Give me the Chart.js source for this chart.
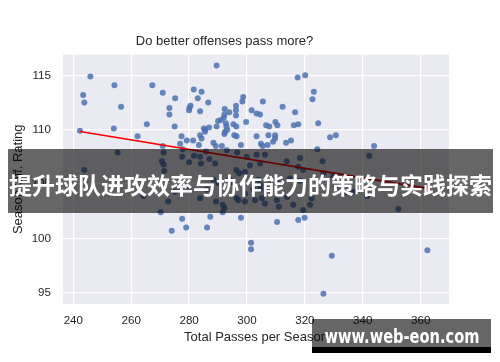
<!DOCTYPE html>
<html>
<head>
<meta charset="utf-8">
<script src="https://cdn.jsdelivr.net/npm/chart.js@4/dist/chart.umd.min.js"></script>
<style>
  html, body { margin: 0; padding: 0; background: #fff; }
  #wrap { position: relative; width: 500px; height: 362px; overflow: hidden; }
  #banner {
    position: absolute; left: 8px; top: 149px; width: 485px; height: 64px;
    background: rgba(0,0,0,0.6); color: #fff; text-align: center;
    font: bold 23px "Noto Sans CJK SC", sans-serif; line-height: 64px; white-space: nowrap;
  }
  #banner span { position: relative; top: 3px; }
  #mark {
    position: absolute; left: 312px; top: 319px; width: 179px; height: 28px;
    background: rgba(0,0,0,0.6); border-bottom: 6px solid #000;
    color: #fff; font: bold 19px "DejaVu Sans", sans-serif; line-height: 28px; white-space: nowrap;
  }
  #mark span {
    position: absolute; left: 50%; top: 3px;
    transform: translateX(-50%) scaleX(0.77);
  }
</style>
</head>
<body>
<div id="wrap">
  <canvas id="chart" width="500" height="362"></canvas>
  <div id="banner"><span>提升球队进攻效率与协作能力的策略与实践探索</span></div>
  <div id="mark"><span>www.web-eon.com</span></div>
</div>
<script>
// total passes per season (x) and season offensive rating (y)
const passes = [
  245.9, 243.4, 243.8, 254.2, 256.5, 267.3, 270.9, 273.2, 273.2, 275.2,
  281.6, 284.3, 283.0, 286.6, 280.5, 280.1, 280.0, 283.8, 289.5, 292.3,
  293.9, 292.2, 292.0, 290.0, 291.0, 296.2, 296.2, 296.2, 298.7, 298.4,
  299.7, 301.6, 303.3, 304.5, 305.5, 312.3, 316.6, 317.5, 320.1, 323.1,
  322.6, 324.6, 309.8, 316.2, 317.7, 306.6, 307.7, 310.5, 265.4, 254.0,
  242.3, 275.0, 285.1, 286.9, 289.5, 292.9, 295.3, 296.3, 292.4, 292.2,
  293.2, 285.5, 262.2, 277.4, 281.4, 283.8, 284.3, 276.9, 295.6, 296.4,
  303.3, 307.4, 309.7, 304.8, 305.4, 307.1, 309.0, 313.5, 315.2, 297.9,
  291.3, 288.4, 289.2, 283.4, 328.7, 330.7, 343.9, 270.9, 277.8, 324.3,
  255.3, 243.8, 264.2, 272.8, 271.2, 270.6, 271.2, 271.4, 277.6, 280.0,
  281.7, 284.1, 283.8, 287.0, 289.0, 285.8, 293.0, 296.6, 299.9, 303.3,
  306.2, 301.0, 304.5, 296.3, 297.3, 299.3, 294.1, 295.3, 303.9, 304.5,
  288.4, 290.1, 313.7, 318.3, 317.7, 319.4, 326.1, 310.3, 314.8, 318.3,
  302.2, 304.5, 299.3, 296.4, 302.8, 299.3, 310.3, 313.9, 316.0, 322.3,
  321.8, 319.4, 291.6, 289.3, 283.8, 286.1, 279.2, 275.1, 330.7, 333.8,
  336.7, 329.8, 342.2, 326.4, 341.5, 352.3, 270.2, 292.2, 297.0, 305.1,
  306.2, 311.0, 277.6, 279.0, 274.0, 287.3, 286.2, 291.6, 297.9, 310.4,
  317.7, 319.9, 301.4, 301.4, 329.3, 362.3, 326.4, 285.5, 292.7, 309.7,
  279.2
];
const rating = [
  114.9, 113.2, 112.5, 114.1, 112.1, 114.1, 113.4, 112.0, 111.4, 112.9,
  113.7, 113.5, 112.9, 112.5, 112.2, 112.0, 111.8, 111.7, 115.9, 111.9,
  111.6, 111.4, 111.1, 110.8, 110.9, 112.2, 111.8, 111.3, 113.0, 112.6,
  110.7, 111.8, 111.5, 111.4, 112.6, 112.1, 111.6, 114.8, 115.0, 113.5,
  112.8, 110.6, 110.7, 110.4, 110.5, 110.4, 110.3, 110.4, 110.5, 110.1,
  109.9, 110.3, 110.1, 110.2, 110.3, 110.3, 110.5, 110.3, 109.8, 109.6,
  110.0, 110.0, 109.4, 109.4, 109.0, 109.5, 109.2, 108.7, 109.5, 109.4,
  109.4, 109.5, 109.5, 108.7, 108.5, 108.6, 108.9, 108.8, 109.0, 108.6,
  108.5, 108.8, 108.5, 108.6, 109.3, 109.5, 108.5, 108.5, 108.2, 108.2,
  107.9, 106.3, 103.9, 103.4, 107.9, 107.1, 106.8, 106.2, 107.5, 107.0,
  107.6, 106.9, 107.5, 107.3, 106.9, 108.0, 108.1, 107.9, 107.5, 107.7,
  107.7, 106.7, 106.9, 106.3, 106.0, 106.1, 105.4, 105.1, 105.4, 104.9,
  105.4, 105.1, 107.1, 107.4, 106.6, 106.3, 107.1, 105.4, 105.5, 105.3,
  104.5, 104.5, 104.1, 103.7, 103.5, 103.4, 103.5, 103.8, 103.1, 103.7,
  103.1, 102.6, 103.1, 103.4, 103.7, 104.5, 104.8, 104.3, 104.8, 104.2,
  104.3, 105.7, 107.6, 106.0, 103.9, 102.7, 102.4, 102.8, 103.5, 103.7,
  103.2, 102.9, 101.8, 101.0, 100.7, 102.0, 101.0, 102.4, 101.9, 101.5,
  101.7, 101.9, 99.6, 99.0, 98.4, 98.9, 94.9, 109.8, 110.6, 109.2,
  109.0
];

// ends of the red fit line
const fitPasses = [242.3, 362.3];
const fitRating = [109.83, 104.6];

const xTicks = [240, 260, 280, 300, 320, 340, 360];
const yTicks = [95, 100, 105, 110, 115];

const FONT = '"Liberation Sans", Arial, sans-serif';
const INK = '#262626';

// grey plot background like seaborn darkgrid
const plotBg = {
  id: 'plotBg',
  beforeDraw(chart) {
    const a = chart.chartArea;
    const c = chart.ctx;
    c.save();
    c.fillStyle = '#EAEAF2';
    c.fillRect(a.left, a.top, a.right - a.left, a.bottom - a.top);
    c.restore();
  }
};

new Chart(document.getElementById('chart'), {
  type: 'scatter',
  data: {
    datasets: [{
      type: 'line',
      data: fitPasses.map((x, i) => ({ x: x, y: fitRating[i] })),
      borderColor: '#ff0000',
      borderWidth: 1.6,
      pointRadius: 0,
      order: 0
    }, {
      data: passes.map((x, i) => ({ x: x, y: rating[i] })),
      backgroundColor: 'rgba(76,114,176,0.85)',
      borderWidth: 0,
      pointRadius: 3,
      order: 1
    }]
  },
  options: {
    responsive: false,
    animation: false,
    layout: { padding: { left: 0, right: 51, top: 0, bottom: 0 } },
    plugins: {
      legend: { display: false },
      tooltip: { enabled: false },
      title: {
        display: true,
        text: 'Do better offenses pass more?',
        color: INK,
        font: { family: FONT, size: 13, weight: 'normal' },
        padding: { top: 34, bottom: 5 }
      }
    },
    scales: {
      x: {
        type: 'linear',
        min: 236.44,
        max: 369.78,
        afterFit: s => { s.height = 58; },
        afterBuildTicks: s => { s.ticks = xTicks.map(v => ({ value: v })); },
        grid: { color: '#ffffff', lineWidth: 1.2, drawTicks: false },
        border: { display: false },
        ticks: { color: INK, padding: 10, font: { family: FONT, size: 11.6 } },
        title: {
          display: true,
          text: 'Total Passes per Season',
          color: INK,
          font: { family: FONT, size: 13 },
          padding: { top: 0, bottom: 17 }
        }
      },
      y: {
        min: 93.96,
        max: 116.91,
        afterFit: s => { s.width = 63; },
        afterBuildTicks: s => { s.ticks = yTicks.map(v => ({ value: v })); },
        grid: { color: '#ffffff', lineWidth: 1.2, drawTicks: false },
        border: { display: false },
        ticks: { color: INK, padding: 12, font: { family: FONT, size: 11.6 } },
        title: {
          display: true,
          text: 'Season Off. Rating',
          color: INK,
          font: { family: FONT, size: 13 },
          padding: { top: 11, bottom: 0 }
        }
      }
    }
  },
  plugins: [plotBg]
});
</script>
</body>
</html>
